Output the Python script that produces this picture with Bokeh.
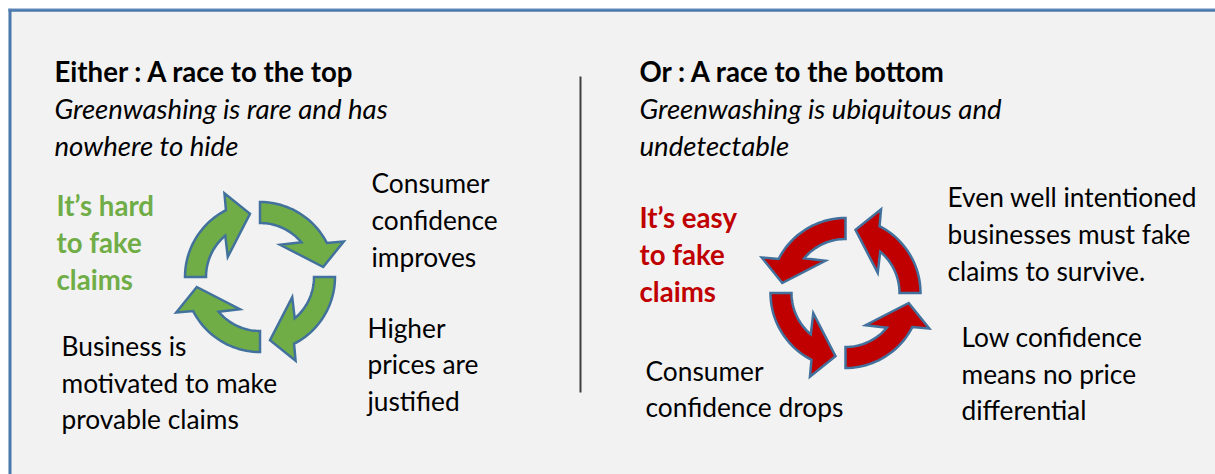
import math
from bokeh.plotting import figure
from bokeh.models import Range1d, ColumnDataSource
from bokeh.core.properties import value
from bokeh.embed import file_html
from bokeh.resources import INLINE

# ---- content ----
titles = ["Either : A race to the top", "Or : A race to the bottom"]
title_x = [54, 639]
title_y = [71, 71]

subtitles = ["Greenwashing is rare and has", "nowhere to hide",
             "Greenwashing is ubiquitous and", "undetectable"]
sub_x = [54, 54, 639, 639]
sub_y = [108, 145, 108, 145]

green_lines = ["It\u2019s hard", "to fake", "claims"]
green_x = [56, 56, 56]
green_y = [205, 242, 279]

red_lines = ["It\u2019s easy", "to fake", "claims"]
red_x = [639, 639, 639]
red_y = [217, 254, 291]

body_lines = ["Consumer", "confidence", "improves",
              "Higher", "prices are", "justified",
              "Business is", "motivated to make", "provable claims",
              "Even well intentioned", "businesses must fake", "claims to survive.",
              "Low confidence", "means no price", "differential",
              "Consumer", "confidence drops"]
body_x = [371, 371, 371,
          367, 367, 367,
          61, 61, 61,
          947, 947, 947,
          961, 961, 961,
          645, 645]
body_y = [182, 219, 256,
          327, 363, 400,
          345, 382, 418,
          196, 233, 270,
          336, 373, 409,
          370, 406]

# cycle arrows: centre, start angles (screen degrees)
green_center = (259.5, 276.5)
green_starts = [-90, 0, 90, 180]
red_center = (845, 292.5)
red_starts = [-90, 180, 90, 0]

GREEN = "#70ad47"
RED = "#c00000"
EDGE = "#41719c"
FONT = "Lato"
FS_REG = "26.3px"
FS_EMPH = "27.6px"

W, H = 1215, 474
p = figure(width=W, height=H, x_range=Range1d(0, W), y_range=Range1d(H, 0),
           output_backend="svg", toolbar_location=None, min_border=0,
           x_axis_location=None, y_axis_location=None)
p.grid.visible = False
p.outline_line_color = None
p.background_fill_color = "#ffffff"
p.border_fill_color = "#ffffff"

# panel background and frame
p.quad(left=[8], right=[W + 5], top=[8], bottom=[H + 5], fill_color="#f2f2f2", line_color=None)
p.line([9.5, 9.5], [8, H + 5], line_color="#4a78ac", line_width=3)
p.line([8, W + 5], [9.8, 9.8], line_color="#4a78ac", line_width=3)
p.line([8, W + 5], [8.2, 8.2], line_color="#a9c1dc", line_width=1)

# divider
p.line([580, 580], [76, 392], line_color="#3f3f3f", line_width=2)


def arrow(cx, cy, start, d, Ri=54.0, Ro=75.0, n=24):
    xs, ys = [], []

    def add(a, r):
        t = math.radians(start + d * a)
        xs.append(cx + r * math.cos(t))
        ys.append(cy + r * math.sin(t))

    for i in range(n + 1):
        add(63.0 * i / n, Ro)
    add(67, 91)
    add(81, 64)
    add(32, 38)
    for i in range(n + 1):
        add(50.0 - 50.0 * i / n, Ri)
    return xs, ys


gx, gy = [], []
for s in green_starts:
    a, b = arrow(green_center[0], green_center[1], s, 1)
    gx.append(a); gy.append(b)
p.patches(gx, gy, fill_color=GREEN, line_color=EDGE, line_width=2.5, line_join="miter")

rx, ry = [], []
for s in red_starts:
    a, b = arrow(red_center[0], red_center[1], s, -1)
    rx.append(a); ry.append(b)
p.patches(rx, ry, fill_color=RED, line_color=EDGE, line_width=2.5, line_join="miter")


def txt(xs, ys, texts, color="#000000", style="normal", size=FS_REG):
    src = ColumnDataSource(dict(x=xs, y=ys, t=texts))
    p.text("x", "y", text="t", source=src, text_font=value(FONT), text_font_size=size,
           text_font_style=style, text_color=color, text_align="left",
           text_baseline="alphabetic")


txt(title_x, title_y, titles, style="bold", size=FS_EMPH)
txt(sub_x, sub_y, subtitles, style="italic", size=FS_EMPH)
txt(green_x, green_y, green_lines, color=GREEN, style="bold", size=FS_EMPH)
txt(red_x, red_y, red_lines, color=RED, style="bold", size=FS_EMPH)
txt(body_x, body_y, body_lines)

open("out.html", "w").write(file_html(p, INLINE))
